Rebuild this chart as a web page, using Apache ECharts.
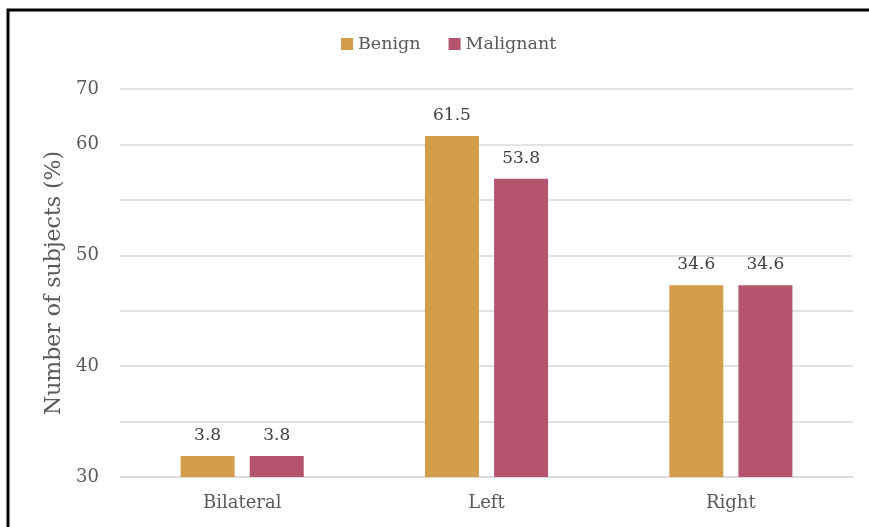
<!DOCTYPE html>
<html>
<head>
<meta charset="utf-8">
<script src="https://cdn.jsdelivr.net/npm/echarts@6/dist/echarts.min.js"></script>
<style>html,body{margin:0;padding:0;background:#fff;}#c{width:869px;height:527px;}</style>
</head>
<body>
<div id="c"></div>
<script>
var categories = ['Bilateral', 'Left', 'Right'];
var benign = [3.8, 61.5, 34.6];
var malignant = [3.8, 53.8, 34.6];
var seriesNames = ['Benign', 'Malignant'];
// tick labels as printed on the reference, for gridlines 0,10,...,70
var tickLabels = ['30', '', '40', '', '50', '', '60', '70'];
var yName = 'Number of subjects (%)';

var FONT = 'DejaVu Serif';
var chart = echarts.init(document.getElementById('c'), null, {renderer: 'canvas'});
chart.setOption({
  animation: false,
  backgroundColor: '#ffffff',
  color: ['#D39D4C', '#B5546E'],
  graphic: [{
    type: 'rect',
    shape: {x: 8, y: 10, width: 1000, height: 1000},
    style: {fill: 'none', stroke: '#000', lineWidth: 3},
    silent: true, z: 100
  }],
  legend: {
    data: seriesNames,
    top: 30,
    left: 336,
    itemWidth: 12,
    itemHeight: 12,
    itemGap: 28,
    icon: 'rect',
    textStyle: {fontFamily: FONT, fontSize: 17.5, color: '#595959'}
  },
  grid: {left: 120, right: 16, top: 89, bottom: 50, containLabel: false},
  xAxis: {
    type: 'category',
    data: categories,
    axisTick: {show: false},
    axisLine: {lineStyle: {color: '#D9D9D9', width: 1.5}},
    axisLabel: {fontFamily: FONT, fontSize: 18, color: '#595959', margin: 17}
  },
  yAxis: {
    type: 'value',
    min: 0, max: 70, interval: 10,
    name: yName,
    nameLocation: 'middle',
    nameGap: 55,
    nameTextStyle: {fontFamily: FONT, fontSize: 22, color: '#595959'},
    axisLine: {show: false},
    axisTick: {show: false},
    splitLine: {lineStyle: {color: '#D9D9D9', width: 1.5}},
    axisLabel: {
      fontFamily: FONT, fontSize: 18, color: '#595959', margin: 21,
      formatter: function (v) { return tickLabels[Math.round(v / 10)]; }
    }
  },
  series: [
    {
      name: seriesNames[0], type: 'bar', data: benign,
      barWidth: 54, barGap: '28%',
      label: {show: true, position: 'top', distance: 12, fontFamily: FONT, fontSize: 17, color: '#404040'}
    },
    {
      name: seriesNames[1], type: 'bar', data: malignant,
      barWidth: 54, barGap: '28%',
      label: {show: true, position: 'top', distance: 12, fontFamily: FONT, fontSize: 17, color: '#404040'}
    }
  ]
});
</script>
</body>
</html>
